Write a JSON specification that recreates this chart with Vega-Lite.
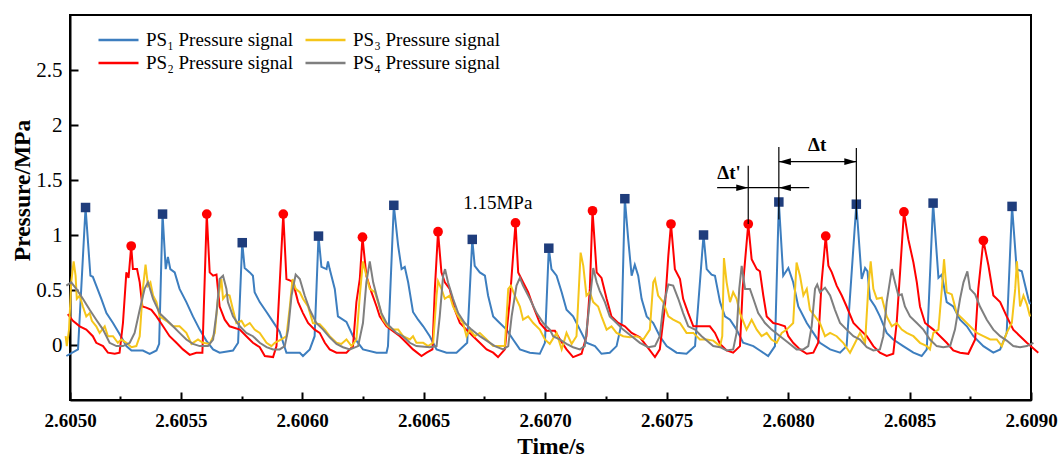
{
  "$schema": "https://vega.github.io/schema/vega-lite/v6.json",
  "width": 961,
  "height": 385,
  "autosize": {"type": "none"},
  "padding": {"left": 70, "top": 15, "right": 27, "bottom": 58},
  "background": "white",
  "config": {
    "view": {"stroke": "black", "strokeWidth": 2},
    "font": "Liberation Serif"
  },
  "datasets": {
    "ps": [
      {"s":"PS1","t":2.605029,"p":-0.10},{"s":"PS1","t":2.605077,"p":-0.04},{"s":"PS1","t":2.605108,"p":1.25},{"s":"PS1","t":2.605128,"p":0.63},{"s":"PS1","t":2.605138,"p":0.62},{"s":"PS1","t":2.605152,"p":0.54},{"s":"PS1","t":2.605173,"p":0.42},{"s":"PS1","t":2.605194,"p":0.29},{"s":"PS1","t":2.605221,"p":0.20},{"s":"PS1","t":2.605248,"p":0.10},{"s":"PS1","t":2.605276,"p":-0.01},{"s":"PS1","t":2.605297,"p":-0.05},{"s":"PS1","t":2.605344,"p":-0.05},{"s":"PS1","t":2.605372,"p":-0.08},{"s":"PS1","t":2.605400,"p":-0.05},{"s":"PS1","t":2.605411,"p":0.01},{"s":"PS1","t":2.605425,"p":1.19},{"s":"PS1","t":2.605438,"p":0.69},{"s":"PS1","t":2.605447,"p":0.80},{"s":"PS1","t":2.605457,"p":0.69},{"s":"PS1","t":2.605475,"p":0.66},{"s":"PS1","t":2.605495,"p":0.51},{"s":"PS1","t":2.605523,"p":0.39},{"s":"PS1","t":2.605550,"p":0.26},{"s":"PS1","t":2.605578,"p":0.14},{"s":"PS1","t":2.605605,"p":0.04},{"s":"PS1","t":2.605633,"p":-0.04},{"s":"PS1","t":2.605660,"p":-0.07},{"s":"PS1","t":2.605715,"p":-0.05},{"s":"PS1","t":2.605736,"p":0.02},{"s":"PS1","t":2.605753,"p":0.93},{"s":"PS1","t":2.605763,"p":0.70},{"s":"PS1","t":2.605784,"p":0.66},{"s":"PS1","t":2.605797,"p":0.63},{"s":"PS1","t":2.605804,"p":0.48},{"s":"PS1","t":2.605825,"p":0.39},{"s":"PS1","t":2.605853,"p":0.30},{"s":"PS1","t":2.605880,"p":0.21},{"s":"PS1","t":2.605907,"p":0.12},{"s":"PS1","t":2.605935,"p":-0.07},{"s":"PS1","t":2.605990,"p":-0.07},{"s":"PS1","t":2.606003,"p":-0.10},{"s":"PS1","t":2.606031,"p":-0.04},{"s":"PS1","t":2.606051,"p":0.08},{"s":"PS1","t":2.606067,"p":0.99},{"s":"PS1","t":2.606079,"p":0.71},{"s":"PS1","t":2.606100,"p":0.69},{"s":"PS1","t":2.606106,"p":0.76},{"s":"PS1","t":2.606113,"p":0.69},{"s":"PS1","t":2.606134,"p":0.51},{"s":"PS1","t":2.606147,"p":0.26},{"s":"PS1","t":2.606182,"p":0.21},{"s":"PS1","t":2.606209,"p":0.08},{"s":"PS1","t":2.606250,"p":-0.04},{"s":"PS1","t":2.606306,"p":-0.07},{"s":"PS1","t":2.606347,"p":-0.07},{"s":"PS1","t":2.606353,"p":-0.01},{"s":"PS1","t":2.606377,"p":1.27},{"s":"PS1","t":2.606395,"p":0.90},{"s":"PS1","t":2.606409,"p":0.69},{"s":"PS1","t":2.606422,"p":0.71},{"s":"PS1","t":2.606436,"p":0.57},{"s":"PS1","t":2.606456,"p":0.30},{"s":"PS1","t":2.606477,"p":0.23},{"s":"PS1","t":2.606498,"p":0.17},{"s":"PS1","t":2.606525,"p":0.08},{"s":"PS1","t":2.606553,"p":-0.04},{"s":"PS1","t":2.606594,"p":-0.07},{"s":"PS1","t":2.606635,"p":-0.07},{"s":"PS1","t":2.606679,"p":0.02},{"s":"PS1","t":2.606700,"p":0.96},{"s":"PS1","t":2.606710,"p":0.72},{"s":"PS1","t":2.606731,"p":0.66},{"s":"PS1","t":2.606752,"p":0.63},{"s":"PS1","t":2.606765,"p":0.45},{"s":"PS1","t":2.606786,"p":0.26},{"s":"PS1","t":2.606813,"p":0.20},{"s":"PS1","t":2.606841,"p":0.14},{"s":"PS1","t":2.606868,"p":0.05},{"s":"PS1","t":2.606896,"p":-0.04},{"s":"PS1","t":2.606937,"p":-0.07},{"s":"PS1","t":2.606978,"p":-0.08},{"s":"PS1","t":2.606999,"p":0.02},{"s":"PS1","t":2.607015,"p":0.88},{"s":"PS1","t":2.607026,"p":0.69},{"s":"PS1","t":2.607047,"p":0.63},{"s":"PS1","t":2.607068,"p":0.48},{"s":"PS1","t":2.607088,"p":0.32},{"s":"PS1","t":2.607115,"p":0.26},{"s":"PS1","t":2.607143,"p":0.14},{"s":"PS1","t":2.607170,"p":0.02},{"s":"PS1","t":2.607205,"p":-0.01},{"s":"PS1","t":2.607232,"p":-0.08},{"s":"PS1","t":2.607266,"p":-0.07},{"s":"PS1","t":2.607294,"p":-0.01},{"s":"PS1","t":2.607315,"p":0.20},{"s":"PS1","t":2.607328,"p":1.33},{"s":"PS1","t":2.607342,"p":0.96},{"s":"PS1","t":2.607356,"p":0.63},{"s":"PS1","t":2.607369,"p":0.73},{"s":"PS1","t":2.607383,"p":0.63},{"s":"PS1","t":2.607397,"p":0.42},{"s":"PS1","t":2.607418,"p":0.26},{"s":"PS1","t":2.607445,"p":0.20},{"s":"PS1","t":2.607472,"p":0.08},{"s":"PS1","t":2.607500,"p":-0.01},{"s":"PS1","t":2.607541,"p":-0.07},{"s":"PS1","t":2.607582,"p":-0.08},{"s":"PS1","t":2.607617,"p":-0.01},{"s":"PS1","t":2.607652,"p":1.00},{"s":"PS1","t":2.607665,"p":0.69},{"s":"PS1","t":2.607685,"p":0.64},{"s":"PS1","t":2.607699,"p":0.63},{"s":"PS1","t":2.607720,"p":0.39},{"s":"PS1","t":2.607740,"p":0.26},{"s":"PS1","t":2.607761,"p":0.23},{"s":"PS1","t":2.607788,"p":0.14},{"s":"PS1","t":2.607815,"p":0.02},{"s":"PS1","t":2.607857,"p":-0.01},{"s":"PS1","t":2.607884,"p":-0.05},{"s":"PS1","t":2.607918,"p":-0.10},{"s":"PS1","t":2.607946,"p":-0.01},{"s":"PS1","t":2.607962,"p":1.30},{"s":"PS1","t":2.607980,"p":0.63},{"s":"PS1","t":2.608001,"p":0.70},{"s":"PS1","t":2.608021,"p":0.57},{"s":"PS1","t":2.608042,"p":0.35},{"s":"PS1","t":2.608077,"p":0.20},{"s":"PS1","t":2.608104,"p":0.11},{"s":"PS1","t":2.608131,"p":0.02},{"s":"PS1","t":2.608173,"p":-0.04},{"s":"PS1","t":2.608214,"p":-0.07},{"s":"PS1","t":2.608241,"p":-0.01},{"s":"PS1","t":2.608281,"p":1.28},{"s":"PS1","t":2.608303,"p":0.60},{"s":"PS1","t":2.608317,"p":0.70},{"s":"PS1","t":2.608327,"p":0.67},{"s":"PS1","t":2.608337,"p":0.42},{"s":"PS1","t":2.608358,"p":0.35},{"s":"PS1","t":2.608378,"p":0.26},{"s":"PS1","t":2.608406,"p":0.11},{"s":"PS1","t":2.608433,"p":0.05},{"s":"PS1","t":2.608474,"p":-0.01},{"s":"PS1","t":2.608516,"p":-0.07},{"s":"PS1","t":2.608550,"p":-0.10},{"s":"PS1","t":2.608571,"p":-0.04},{"s":"PS1","t":2.608597,"p":1.29},{"s":"PS1","t":2.608619,"p":0.61},{"s":"PS1","t":2.608633,"p":0.64},{"s":"PS1","t":2.608653,"p":0.39},{"s":"PS1","t":2.608680,"p":0.35},{"s":"PS1","t":2.608708,"p":0.23},{"s":"PS1","t":2.608736,"p":0.17},{"s":"PS1","t":2.608763,"p":0.08},{"s":"PS1","t":2.608804,"p":-0.01},{"s":"PS1","t":2.608845,"p":-0.07},{"s":"PS1","t":2.608873,"p":-0.04},{"s":"PS1","t":2.608900,"p":0.11},{"s":"PS1","t":2.608922,"p":1.26},{"s":"PS1","t":2.608941,"p":0.69},{"s":"PS1","t":2.608962,"p":0.67},{"s":"PS1","t":2.608976,"p":0.54},{"s":"PS1","t":2.608989,"p":0.42},{"s":"PS1","t":2.608996,"p":0.37},

      {"s":"PS2","t":2.605035,"p":0.28},{"s":"PS2","t":2.605056,"p":0.22},{"s":"PS2","t":2.605084,"p":0.17},{"s":"PS2","t":2.605111,"p":0.14},{"s":"PS2","t":2.605138,"p":0.08},{"s":"PS2","t":2.605152,"p":0.02},{"s":"PS2","t":2.605180,"p":-0.01},{"s":"PS2","t":2.605200,"p":-0.07},{"s":"PS2","t":2.605228,"p":-0.08},{"s":"PS2","t":2.605248,"p":-0.07},{"s":"PS2","t":2.605262,"p":0.20},{"s":"PS2","t":2.605276,"p":0.66},{"s":"PS2","t":2.605285,"p":0.61},{"s":"PS2","t":2.605296,"p":0.90},{"s":"PS2","t":2.605303,"p":0.69},{"s":"PS2","t":2.605320,"p":0.69},{"s":"PS2","t":2.605331,"p":0.57},{"s":"PS2","t":2.605342,"p":0.35},{"s":"PS2","t":2.605358,"p":0.34},{"s":"PS2","t":2.605379,"p":0.32},{"s":"PS2","t":2.605400,"p":0.26},{"s":"PS2","t":2.605427,"p":0.17},{"s":"PS2","t":2.605454,"p":0.08},{"s":"PS2","t":2.605482,"p":0.02},{"s":"PS2","t":2.605509,"p":-0.04},{"s":"PS2","t":2.605537,"p":-0.09},{"s":"PS2","t":2.605564,"p":-0.07},{"s":"PS2","t":2.605589,"p":-0.07},{"s":"PS2","t":2.605607,"p":1.19},{"s":"PS2","t":2.605619,"p":0.66},{"s":"PS2","t":2.605633,"p":0.63},{"s":"PS2","t":2.605647,"p":0.64},{"s":"PS2","t":2.605660,"p":0.35},{"s":"PS2","t":2.605681,"p":0.23},{"s":"PS2","t":2.605701,"p":0.17},{"s":"PS2","t":2.605743,"p":0.14},{"s":"PS2","t":2.605770,"p":0.08},{"s":"PS2","t":2.605797,"p":0.02},{"s":"PS2","t":2.605825,"p":-0.02},{"s":"PS2","t":2.605846,"p":-0.10},{"s":"PS2","t":2.605880,"p":-0.11},{"s":"PS2","t":2.605894,"p":-0.01},{"s":"PS2","t":2.605922,"p":1.19},{"s":"PS2","t":2.605935,"p":0.60},{"s":"PS2","t":2.605956,"p":0.58},{"s":"PS2","t":2.605969,"p":0.51},{"s":"PS2","t":2.605983,"p":0.39},{"s":"PS2","t":2.606003,"p":0.29},{"s":"PS2","t":2.606024,"p":0.20},{"s":"PS2","t":2.606051,"p":0.14},{"s":"PS2","t":2.606072,"p":0.11},{"s":"PS2","t":2.606093,"p":0.02},{"s":"PS2","t":2.606113,"p":-0.04},{"s":"PS2","t":2.606141,"p":-0.07},{"s":"PS2","t":2.606182,"p":-0.07},{"s":"PS2","t":2.606209,"p":-0.01},{"s":"PS2","t":2.606223,"p":0.39},{"s":"PS2","t":2.606237,"p":0.60},{"s":"PS2","t":2.606248,"p":0.98},{"s":"PS2","t":2.606264,"p":0.63},{"s":"PS2","t":2.606285,"p":0.48},{"s":"PS2","t":2.606306,"p":0.35},{"s":"PS2","t":2.606319,"p":0.26},{"s":"PS2","t":2.606347,"p":0.17},{"s":"PS2","t":2.606402,"p":0.08},{"s":"PS2","t":2.606429,"p":0.02},{"s":"PS2","t":2.606456,"p":-0.04},{"s":"PS2","t":2.606491,"p":-0.10},{"s":"PS2","t":2.606512,"p":-0.07},{"s":"PS2","t":2.606536,"p":-0.04},{"s":"PS2","t":2.606546,"p":0.51},{"s":"PS2","t":2.606559,"p":1.03},{"s":"PS2","t":2.606573,"p":0.66},{"s":"PS2","t":2.606587,"p":0.57},{"s":"PS2","t":2.606607,"p":0.51},{"s":"PS2","t":2.606628,"p":0.32},{"s":"PS2","t":2.606649,"p":0.20},{"s":"PS2","t":2.606676,"p":0.14},{"s":"PS2","t":2.606703,"p":0.08},{"s":"PS2","t":2.606731,"p":0.02},{"s":"PS2","t":2.606759,"p":-0.04},{"s":"PS2","t":2.606786,"p":-0.07},{"s":"PS2","t":2.606806,"p":-0.11},{"s":"PS2","t":2.606834,"p":-0.04},{"s":"PS2","t":2.606855,"p":0.42},{"s":"PS2","t":2.606878,"p":1.11},{"s":"PS2","t":2.606889,"p":0.66},{"s":"PS2","t":2.606909,"p":0.57},{"s":"PS2","t":2.606930,"p":0.48},{"s":"PS2","t":2.606951,"p":0.35},{"s":"PS2","t":2.606978,"p":0.20},{"s":"PS2","t":2.607006,"p":0.13},{"s":"PS2","t":2.607040,"p":0.13},{"s":"PS2","t":2.607061,"p":0.05},{"s":"PS2","t":2.607088,"p":-0.04},{"s":"PS2","t":2.607115,"p":-0.11},{"s":"PS2","t":2.607150,"p":-0.08},{"s":"PS2","t":2.607170,"p":0.08},{"s":"PS2","t":2.607184,"p":0.51},{"s":"PS2","t":2.607195,"p":1.22},{"s":"PS2","t":2.607212,"p":0.66},{"s":"PS2","t":2.607232,"p":0.61},{"s":"PS2","t":2.607253,"p":0.42},{"s":"PS2","t":2.607273,"p":0.26},{"s":"PS2","t":2.607301,"p":0.20},{"s":"PS2","t":2.607328,"p":0.17},{"s":"PS2","t":2.607356,"p":0.11},{"s":"PS2","t":2.607390,"p":0.07},{"s":"PS2","t":2.607418,"p":-0.01},{"s":"PS2","t":2.607452,"p":-0.11},{"s":"PS2","t":2.607472,"p":-0.04},{"s":"PS2","t":2.607493,"p":0.35},{"s":"PS2","t":2.607507,"p":0.81},{"s":"PS2","t":2.607518,"p":1.10},{"s":"PS2","t":2.607534,"p":0.69},{"s":"PS2","t":2.607555,"p":0.60},{"s":"PS2","t":2.607568,"p":0.42},{"s":"PS2","t":2.607589,"p":0.29},{"s":"PS2","t":2.607610,"p":0.17},{"s":"PS2","t":2.607678,"p":0.17},{"s":"PS2","t":2.607699,"p":0.11},{"s":"PS2","t":2.607720,"p":0.01},{"s":"PS2","t":2.607747,"p":-0.05},{"s":"PS2","t":2.607774,"p":-0.07},{"s":"PS2","t":2.607802,"p":-0.01},{"s":"PS2","t":2.607813,"p":0.51},{"s":"PS2","t":2.607836,"p":1.10},{"s":"PS2","t":2.607850,"p":0.78},{"s":"PS2","t":2.607871,"p":0.69},{"s":"PS2","t":2.607884,"p":0.67},{"s":"PS2","t":2.607898,"p":0.45},{"s":"PS2","t":2.607912,"p":0.26},{"s":"PS2","t":2.607939,"p":0.20},{"s":"PS2","t":2.607960,"p":0.19},{"s":"PS2","t":2.607987,"p":0.17},{"s":"PS2","t":2.608001,"p":0.08},{"s":"PS2","t":2.608021,"p":0.02},{"s":"PS2","t":2.608049,"p":-0.04},{"s":"PS2","t":2.608077,"p":-0.08},{"s":"PS2","t":2.608104,"p":-0.07},{"s":"PS2","t":2.608124,"p":0.02},{"s":"PS2","t":2.608138,"p":0.57},{"s":"PS2","t":2.608155,"p":0.99},{"s":"PS2","t":2.608166,"p":0.72},{"s":"PS2","t":2.608180,"p":0.66},{"s":"PS2","t":2.608200,"p":0.54},{"s":"PS2","t":2.608221,"p":0.45},{"s":"PS2","t":2.608241,"p":0.35},{"s":"PS2","t":2.608269,"p":0.20},{"s":"PS2","t":2.608296,"p":0.14},{"s":"PS2","t":2.608324,"p":0.08},{"s":"PS2","t":2.608351,"p":-0.01},{"s":"PS2","t":2.608378,"p":-0.07},{"s":"PS2","t":2.608406,"p":-0.10},{"s":"PS2","t":2.608433,"p":-0.08},{"s":"PS2","t":2.608447,"p":0.20},{"s":"PS2","t":2.608461,"p":0.66},{"s":"PS2","t":2.608477,"p":1.21},{"s":"PS2","t":2.608495,"p":0.96},{"s":"PS2","t":2.608516,"p":0.75},{"s":"PS2","t":2.608530,"p":0.57},{"s":"PS2","t":2.608543,"p":0.35},{"s":"PS2","t":2.608564,"p":0.20},{"s":"PS2","t":2.608598,"p":0.14},{"s":"PS2","t":2.608626,"p":0.08},{"s":"PS2","t":2.608653,"p":0.02},{"s":"PS2","t":2.608680,"p":-0.05},{"s":"PS2","t":2.608708,"p":-0.07},{"s":"PS2","t":2.608742,"p":-0.08},{"s":"PS2","t":2.608770,"p":0.05},{"s":"PS2","t":2.608783,"p":0.51},{"s":"PS2","t":2.608804,"p":0.95},{"s":"PS2","t":2.608825,"p":0.72},{"s":"PS2","t":2.608845,"p":0.45},{"s":"PS2","t":2.608873,"p":0.39},{"s":"PS2","t":2.608900,"p":0.26},{"s":"PS2","t":2.608927,"p":0.14},{"s":"PS2","t":2.608955,"p":0.08},{"s":"PS2","t":2.608983,"p":0.02},{"s":"PS2","t":2.609030,"p":-0.07},

      {"s":"PS3","t":2.605026,"p":0.08},{"s":"PS3","t":2.605031,"p":-0.01},{"s":"PS3","t":2.605040,"p":0.14},{"s":"PS3","t":2.605049,"p":0.57},{"s":"PS3","t":2.605059,"p":0.76},{"s":"PS3","t":2.605067,"p":0.63},{"s":"PS3","t":2.605072,"p":0.42},{"s":"PS3","t":2.605084,"p":0.45},{"s":"PS3","t":2.605097,"p":0.35},{"s":"PS3","t":2.605111,"p":0.26},{"s":"PS3","t":2.605125,"p":0.29},{"s":"PS3","t":2.605134,"p":0.22},{"s":"PS3","t":2.605152,"p":0.17},{"s":"PS3","t":2.605166,"p":0.11},{"s":"PS3","t":2.605187,"p":0.17},{"s":"PS3","t":2.605200,"p":0.08},{"s":"PS3","t":2.605221,"p":0.08},{"s":"PS3","t":2.605241,"p":0.02},{"s":"PS3","t":2.605255,"p":0.05},{"s":"PS3","t":2.605276,"p":0.02},{"s":"PS3","t":2.605297,"p":-0.02},{"s":"PS3","t":2.605317,"p":-0.01},{"s":"PS3","t":2.605331,"p":0.08},{"s":"PS3","t":2.605344,"p":0.51},{"s":"PS3","t":2.605355,"p":0.73},{"s":"PS3","t":2.605365,"p":0.54},{"s":"PS3","t":2.605375,"p":0.57},{"s":"PS3","t":2.605386,"p":0.45},{"s":"PS3","t":2.605400,"p":0.39},{"s":"PS3","t":2.605413,"p":0.26},{"s":"PS3","t":2.605441,"p":0.22},{"s":"PS3","t":2.605468,"p":0.17},{"s":"PS3","t":2.605495,"p":0.17},{"s":"PS3","t":2.605523,"p":0.11},{"s":"PS3","t":2.605544,"p":0.01},{"s":"PS3","t":2.605571,"p":0.05},{"s":"PS3","t":2.605591,"p":0.02},{"s":"PS3","t":2.605619,"p":0.01},{"s":"PS3","t":2.605640,"p":0.11},{"s":"PS3","t":2.605653,"p":0.42},{"s":"PS3","t":2.605667,"p":0.60},{"s":"PS3","t":2.605674,"p":0.42},{"s":"PS3","t":2.605688,"p":0.46},{"s":"PS3","t":2.605701,"p":0.45},{"s":"PS3","t":2.605715,"p":0.32},{"s":"PS3","t":2.605729,"p":0.20},{"s":"PS3","t":2.605750,"p":0.22},{"s":"PS3","t":2.605763,"p":0.17},{"s":"PS3","t":2.605784,"p":0.20},{"s":"PS3","t":2.605804,"p":0.14},{"s":"PS3","t":2.605825,"p":0.11},{"s":"PS3","t":2.605853,"p":0.02},{"s":"PS3","t":2.605873,"p":-0.01},{"s":"PS3","t":2.605887,"p":0.02},{"s":"PS3","t":2.605914,"p":0.05},{"s":"PS3","t":2.605935,"p":0.08},{"s":"PS3","t":2.605949,"p":0.35},{"s":"PS3","t":2.605960,"p":0.60},{"s":"PS3","t":2.605973,"p":0.51},{"s":"PS3","t":2.605990,"p":0.48},{"s":"PS3","t":2.606003,"p":0.42},{"s":"PS3","t":2.606024,"p":0.35},{"s":"PS3","t":2.606044,"p":0.20},{"s":"PS3","t":2.606072,"p":0.19},{"s":"PS3","t":2.606093,"p":0.14},{"s":"PS3","t":2.606113,"p":0.08},{"s":"PS3","t":2.606141,"p":0.02},{"s":"PS3","t":2.606161,"p":0.01},{"s":"PS3","t":2.606182,"p":0.05},{"s":"PS3","t":2.606203,"p":-0.01},{"s":"PS3","t":2.606223,"p":0.05},{"s":"PS3","t":2.606237,"p":0.45},{"s":"PS3","t":2.606250,"p":0.76},{"s":"PS3","t":2.606264,"p":0.63},{"s":"PS3","t":2.606278,"p":0.51},{"s":"PS3","t":2.606299,"p":0.48},{"s":"PS3","t":2.606312,"p":0.39},{"s":"PS3","t":2.606333,"p":0.23},{"s":"PS3","t":2.606353,"p":0.17},{"s":"PS3","t":2.606374,"p":0.14},{"s":"PS3","t":2.606395,"p":0.14},{"s":"PS3","t":2.606415,"p":0.08},{"s":"PS3","t":2.606443,"p":0.05},{"s":"PS3","t":2.606456,"p":0.08},{"s":"PS3","t":2.606470,"p":0.02},{"s":"PS3","t":2.606498,"p":0.02},{"s":"PS3","t":2.606518,"p":-0.01},{"s":"PS3","t":2.606539,"p":0.02},{"s":"PS3","t":2.606553,"p":0.45},{"s":"PS3","t":2.606559,"p":0.58},{"s":"PS3","t":2.606573,"p":0.51},{"s":"PS3","t":2.606587,"p":0.42},{"s":"PS3","t":2.606607,"p":0.45},{"s":"PS3","t":2.606621,"p":0.35},{"s":"PS3","t":2.606642,"p":0.26},{"s":"PS3","t":2.606662,"p":0.20},{"s":"PS3","t":2.606676,"p":0.08},{"s":"PS3","t":2.606690,"p":0.14},{"s":"PS3","t":2.606710,"p":0.08},{"s":"PS3","t":2.606731,"p":0.11},{"s":"PS3","t":2.606759,"p":0.05},{"s":"PS3","t":2.606786,"p":-0.01},{"s":"PS3","t":2.606834,"p":-0.01},{"s":"PS3","t":2.606848,"p":0.51},{"s":"PS3","t":2.606859,"p":0.54},{"s":"PS3","t":2.606875,"p":0.45},{"s":"PS3","t":2.606896,"p":0.35},{"s":"PS3","t":2.606909,"p":0.23},{"s":"PS3","t":2.606930,"p":0.26},{"s":"PS3","t":2.606951,"p":0.20},{"s":"PS3","t":2.606978,"p":0.14},{"s":"PS3","t":2.606999,"p":0.05},{"s":"PS3","t":2.607019,"p":0.01},{"s":"PS3","t":2.607047,"p":0.11},{"s":"PS3","t":2.607068,"p":-0.04},{"s":"PS3","t":2.607088,"p":0.11},{"s":"PS3","t":2.607109,"p":0.01},{"s":"PS3","t":2.607129,"p":0.08},{"s":"PS3","t":2.607146,"p":0.84},{"s":"PS3","t":2.607157,"p":0.72},{"s":"PS3","t":2.607170,"p":0.45},{"s":"PS3","t":2.607184,"p":0.48},{"s":"PS3","t":2.607198,"p":0.39},{"s":"PS3","t":2.607218,"p":0.35},{"s":"PS3","t":2.607232,"p":0.26},{"s":"PS3","t":2.607253,"p":0.14},{"s":"PS3","t":2.607273,"p":0.17},{"s":"PS3","t":2.607294,"p":0.11},{"s":"PS3","t":2.607321,"p":0.08},{"s":"PS3","t":2.607349,"p":0.07},{"s":"PS3","t":2.607376,"p":0.08},{"s":"PS3","t":2.607404,"p":0.05},{"s":"PS3","t":2.607431,"p":0.14},{"s":"PS3","t":2.607445,"p":0.57},{"s":"PS3","t":2.607452,"p":0.60},{"s":"PS3","t":2.607465,"p":0.45},{"s":"PS3","t":2.607486,"p":0.39},{"s":"PS3","t":2.607507,"p":0.26},{"s":"PS3","t":2.607527,"p":0.23},{"s":"PS3","t":2.607555,"p":0.20},{"s":"PS3","t":2.607582,"p":0.11},{"s":"PS3","t":2.607610,"p":0.11},{"s":"PS3","t":2.607637,"p":0.05},{"s":"PS3","t":2.607665,"p":0.05},{"s":"PS3","t":2.607692,"p":0.04},{"s":"PS3","t":2.607720,"p":-0.01},{"s":"PS3","t":2.607729,"p":0.08},{"s":"PS3","t":2.607736,"p":0.79},{"s":"PS3","t":2.607747,"p":0.57},{"s":"PS3","t":2.607761,"p":0.39},{"s":"PS3","t":2.607774,"p":0.48},{"s":"PS3","t":2.607788,"p":0.42},{"s":"PS3","t":2.607802,"p":0.29},{"s":"PS3","t":2.607829,"p":0.14},{"s":"PS3","t":2.607850,"p":0.23},{"s":"PS3","t":2.607871,"p":0.14},{"s":"PS3","t":2.607891,"p":0.08},{"s":"PS3","t":2.607912,"p":0.11},{"s":"PS3","t":2.607932,"p":0.05},{"s":"PS3","t":2.607953,"p":0.02},{"s":"PS3","t":2.607974,"p":0.11},{"s":"PS3","t":2.607994,"p":0.14},{"s":"PS3","t":2.608021,"p":0.20},{"s":"PS3","t":2.608035,"p":0.75},{"s":"PS3","t":2.608049,"p":0.63},{"s":"PS3","t":2.608063,"p":0.45},{"s":"PS3","t":2.608077,"p":0.51},{"s":"PS3","t":2.608090,"p":0.32},{"s":"PS3","t":2.608111,"p":0.26},{"s":"PS3","t":2.608131,"p":0.20},{"s":"PS3","t":2.608152,"p":0.08},{"s":"PS3","t":2.608173,"p":0.11},{"s":"PS3","t":2.608200,"p":0.08},{"s":"PS3","t":2.608227,"p":0.02},{"s":"PS3","t":2.608255,"p":-0.07},{"s":"PS3","t":2.608276,"p":0.02},{"s":"PS3","t":2.608296,"p":0.11},{"s":"PS3","t":2.608317,"p":0.02},{"s":"PS3","t":2.608330,"p":0.51},{"s":"PS3","t":2.608340,"p":0.76},{"s":"PS3","t":2.608351,"p":0.51},{"s":"PS3","t":2.608365,"p":0.42},{"s":"PS3","t":2.608386,"p":0.43},{"s":"PS3","t":2.608406,"p":0.26},{"s":"PS3","t":2.608427,"p":0.17},{"s":"PS3","t":2.608447,"p":0.20},{"s":"PS3","t":2.608468,"p":0.14},{"s":"PS3","t":2.608488,"p":0.11},{"s":"PS3","t":2.608516,"p":0.08},{"s":"PS3","t":2.608543,"p":0.02},{"s":"PS3","t":2.608571,"p":-0.01},{"s":"PS3","t":2.608584,"p":-0.04},{"s":"PS3","t":2.608598,"p":0.11},{"s":"PS3","t":2.608619,"p":0.14},{"s":"PS3","t":2.608633,"p":0.51},{"s":"PS3","t":2.608642,"p":0.78},{"s":"PS3","t":2.608653,"p":0.48},{"s":"PS3","t":2.608674,"p":0.46},{"s":"PS3","t":2.608694,"p":0.29},{"s":"PS3","t":2.608722,"p":0.23},{"s":"PS3","t":2.608749,"p":0.17},{"s":"PS3","t":2.608777,"p":0.11},{"s":"PS3","t":2.608804,"p":0.08},{"s":"PS3","t":2.608832,"p":0.05},{"s":"PS3","t":2.608859,"p":0.05},{"s":"PS3","t":2.608880,"p":-0.01},{"s":"PS3","t":2.608900,"p":0.11},{"s":"PS3","t":2.608921,"p":0.20},{"s":"PS3","t":2.608935,"p":0.51},{"s":"PS3","t":2.608942,"p":0.76},{"s":"PS3","t":2.608955,"p":0.35},{"s":"PS3","t":2.608969,"p":0.45},{"s":"PS3","t":2.608983,"p":0.37},{"s":"PS3","t":2.608996,"p":0.26},

      {"s":"PS4","t":2.605029,"p":0.54},{"s":"PS4","t":2.605049,"p":0.57},{"s":"PS4","t":2.605070,"p":0.51},{"s":"PS4","t":2.605097,"p":0.42},{"s":"PS4","t":2.605125,"p":0.32},{"s":"PS4","t":2.605152,"p":0.23},{"s":"PS4","t":2.605180,"p":0.14},{"s":"PS4","t":2.605207,"p":0.02},{"s":"PS4","t":2.605235,"p":-0.01},{"s":"PS4","t":2.605262,"p":-0.01},{"s":"PS4","t":2.605290,"p":0.02},{"s":"PS4","t":2.605310,"p":0.11},{"s":"PS4","t":2.605331,"p":0.32},{"s":"PS4","t":2.605351,"p":0.51},{"s":"PS4","t":2.605365,"p":0.57},{"s":"PS4","t":2.605386,"p":0.42},{"s":"PS4","t":2.605413,"p":0.29},{"s":"PS4","t":2.605441,"p":0.23},{"s":"PS4","t":2.605468,"p":0.17},{"s":"PS4","t":2.605495,"p":0.11},{"s":"PS4","t":2.605523,"p":0.05},{"s":"PS4","t":2.605550,"p":0.01},{"s":"PS4","t":2.605578,"p":-0.01},{"s":"PS4","t":2.605612,"p":-0.01},{"s":"PS4","t":2.605633,"p":0.05},{"s":"PS4","t":2.605647,"p":0.29},{"s":"PS4","t":2.605660,"p":0.60},{"s":"PS4","t":2.605674,"p":0.63},{"s":"PS4","t":2.605688,"p":0.51},{"s":"PS4","t":2.605694,"p":0.39},{"s":"PS4","t":2.605715,"p":0.26},{"s":"PS4","t":2.605743,"p":0.17},{"s":"PS4","t":2.605770,"p":0.11},{"s":"PS4","t":2.605797,"p":0.08},{"s":"PS4","t":2.605825,"p":0.02},{"s":"PS4","t":2.605853,"p":-0.02},{"s":"PS4","t":2.605880,"p":-0.04},{"s":"PS4","t":2.605907,"p":-0.04},{"s":"PS4","t":2.605928,"p":-0.01},{"s":"PS4","t":2.605942,"p":0.14},{"s":"PS4","t":2.605956,"p":0.45},{"s":"PS4","t":2.605973,"p":0.64},{"s":"PS4","t":2.605990,"p":0.60},{"s":"PS4","t":2.606010,"p":0.45},{"s":"PS4","t":2.606031,"p":0.32},{"s":"PS4","t":2.606058,"p":0.20},{"s":"PS4","t":2.606086,"p":0.14},{"s":"PS4","t":2.606113,"p":0.07},{"s":"PS4","t":2.606141,"p":0.01},{"s":"PS4","t":2.606168,"p":-0.02},{"s":"PS4","t":2.606196,"p":-0.04},{"s":"PS4","t":2.606230,"p":-0.01},{"s":"PS4","t":2.606250,"p":0.20},{"s":"PS4","t":2.606264,"p":0.57},{"s":"PS4","t":2.606278,"p":0.76},{"s":"PS4","t":2.606292,"p":0.57},{"s":"PS4","t":2.606306,"p":0.45},{"s":"PS4","t":2.606326,"p":0.29},{"s":"PS4","t":2.606347,"p":0.20},{"s":"PS4","t":2.606360,"p":0.17},{"s":"PS4","t":2.606388,"p":0.11},{"s":"PS4","t":2.606415,"p":0.08},{"s":"PS4","t":2.606443,"p":0.02},{"s":"PS4","t":2.606470,"p":-0.01},{"s":"PS4","t":2.606525,"p":-0.02},{"s":"PS4","t":2.606553,"p":-0.01},{"s":"PS4","t":2.606566,"p":0.26},{"s":"PS4","t":2.606580,"p":0.63},{"s":"PS4","t":2.606588,"p":0.69},{"s":"PS4","t":2.606600,"p":0.57},{"s":"PS4","t":2.606621,"p":0.42},{"s":"PS4","t":2.606642,"p":0.29},{"s":"PS4","t":2.606669,"p":0.20},{"s":"PS4","t":2.606697,"p":0.14},{"s":"PS4","t":2.606731,"p":0.08},{"s":"PS4","t":2.606759,"p":0.04},{"s":"PS4","t":2.606793,"p":-0.01},{"s":"PS4","t":2.606827,"p":-0.04},{"s":"PS4","t":2.606848,"p":-0.01},{"s":"PS4","t":2.606862,"p":0.26},{"s":"PS4","t":2.606882,"p":0.54},{"s":"PS4","t":2.606896,"p":0.61},{"s":"PS4","t":2.606909,"p":0.54},{"s":"PS4","t":2.606937,"p":0.42},{"s":"PS4","t":2.606965,"p":0.29},{"s":"PS4","t":2.606992,"p":0.20},{"s":"PS4","t":2.607019,"p":0.14},{"s":"PS4","t":2.607033,"p":0.08},{"s":"PS4","t":2.607061,"p":0.05},{"s":"PS4","t":2.607088,"p":0.01},{"s":"PS4","t":2.607115,"p":-0.02},{"s":"PS4","t":2.607143,"p":-0.04},{"s":"PS4","t":2.607163,"p":-0.01},{"s":"PS4","t":2.607177,"p":0.26},{"s":"PS4","t":2.607198,"p":0.70},{"s":"PS4","t":2.607212,"p":0.57},{"s":"PS4","t":2.607225,"p":0.49},{"s":"PS4","t":2.607246,"p":0.39},{"s":"PS4","t":2.607266,"p":0.26},{"s":"PS4","t":2.607294,"p":0.20},{"s":"PS4","t":2.607321,"p":0.14},{"s":"PS4","t":2.607356,"p":0.08},{"s":"PS4","t":2.607390,"p":0.02},{"s":"PS4","t":2.607424,"p":-0.02},{"s":"PS4","t":2.607452,"p":-0.01},{"s":"PS4","t":2.607472,"p":0.08},{"s":"PS4","t":2.607486,"p":0.35},{"s":"PS4","t":2.607507,"p":0.55},{"s":"PS4","t":2.607527,"p":0.54},{"s":"PS4","t":2.607548,"p":0.42},{"s":"PS4","t":2.607568,"p":0.29},{"s":"PS4","t":2.607589,"p":0.17},{"s":"PS4","t":2.607617,"p":0.14},{"s":"PS4","t":2.607644,"p":0.08},{"s":"PS4","t":2.607665,"p":0.04},{"s":"PS4","t":2.607692,"p":-0.01},{"s":"PS4","t":2.607720,"p":-0.02},{"s":"PS4","t":2.607747,"p":-0.05},{"s":"PS4","t":2.607774,"p":-0.04},{"s":"PS4","t":2.607788,"p":0.11},{"s":"PS4","t":2.607799,"p":0.51},{"s":"PS4","t":2.607809,"p":0.72},{"s":"PS4","t":2.607823,"p":0.51},{"s":"PS4","t":2.607843,"p":0.51},{"s":"PS4","t":2.607857,"p":0.42},{"s":"PS4","t":2.607877,"p":0.29},{"s":"PS4","t":2.607905,"p":0.20},{"s":"PS4","t":2.607932,"p":0.14},{"s":"PS4","t":2.607967,"p":0.08},{"s":"PS4","t":2.608001,"p":0.02},{"s":"PS4","t":2.608035,"p":-0.04},{"s":"PS4","t":2.608063,"p":-0.04},{"s":"PS4","t":2.608083,"p":-0.01},{"s":"PS4","t":2.608097,"p":0.17},{"s":"PS4","t":2.608111,"p":0.51},{"s":"PS4","t":2.608120,"p":0.55},{"s":"PS4","t":2.608131,"p":0.48},{"s":"PS4","t":2.608152,"p":0.52},{"s":"PS4","t":2.608173,"p":0.45},{"s":"PS4","t":2.608193,"p":0.32},{"s":"PS4","t":2.608214,"p":0.20},{"s":"PS4","t":2.608241,"p":0.14},{"s":"PS4","t":2.608269,"p":0.08},{"s":"PS4","t":2.608296,"p":0.05},{"s":"PS4","t":2.608324,"p":-0.02},{"s":"PS4","t":2.608351,"p":-0.05},{"s":"PS4","t":2.608378,"p":-0.04},{"s":"PS4","t":2.608392,"p":0.08},{"s":"PS4","t":2.608406,"p":0.39},{"s":"PS4","t":2.608427,"p":0.69},{"s":"PS4","t":2.608440,"p":0.57},{"s":"PS4","t":2.608454,"p":0.45},{"s":"PS4","t":2.608468,"p":0.46},{"s":"PS4","t":2.608481,"p":0.35},{"s":"PS4","t":2.608502,"p":0.26},{"s":"PS4","t":2.608530,"p":0.20},{"s":"PS4","t":2.608557,"p":0.14},{"s":"PS4","t":2.608584,"p":0.05},{"s":"PS4","t":2.608612,"p":-0.01},{"s":"PS4","t":2.608639,"p":-0.02},{"s":"PS4","t":2.608667,"p":-0.01},{"s":"PS4","t":2.608687,"p":0.14},{"s":"PS4","t":2.608708,"p":0.42},{"s":"PS4","t":2.608722,"p":0.57},{"s":"PS4","t":2.608738,"p":0.67},{"s":"PS4","t":2.608749,"p":0.51},{"s":"PS4","t":2.608770,"p":0.46},{"s":"PS4","t":2.608790,"p":0.35},{"s":"PS4","t":2.608818,"p":0.23},{"s":"PS4","t":2.608845,"p":0.14},{"s":"PS4","t":2.608873,"p":0.08},{"s":"PS4","t":2.608900,"p":0.04},{"s":"PS4","t":2.608927,"p":-0.01},{"s":"PS4","t":2.608955,"p":-0.02},{"s":"PS4","t":2.608983,"p":-0.01},{"s":"PS4","t":2.609010,"p":0.02}
    ],
    "m1": [
      {"t":2.605108,"p":1.25},{"t":2.605425,"p":1.19},{"t":2.605753,"p":0.93},{"t":2.606067,"p":0.99},{"t":2.606377,"p":1.27},{"t":2.606700,"p":0.96},{"t":2.607015,"p":0.88},{"t":2.607328,"p":1.33},{"t":2.607652,"p":1.00},{"t":2.607962,"p":1.30},{"t":2.608281,"p":1.28},{"t":2.608597,"p":1.29},{"t":2.608922,"p":1.26}
    ],
    "m2": [
      {"t":2.605296,"p":0.90},{"t":2.605607,"p":1.19},{"t":2.605922,"p":1.19},{"t":2.606248,"p":0.98},{"t":2.606559,"p":1.03},{"t":2.606878,"p":1.11},{"t":2.607195,"p":1.22},{"t":2.607518,"p":1.10},{"t":2.607836,"p":1.10},{"t":2.608155,"p":0.99},{"t":2.608477,"p":1.21},{"t":2.608804,"p":0.95}
    ],
    "vr": [
      {"t":2.607836,"p":1.10,"p2":1.63},{"t":2.607962,"p":1.14,"p2":1.80},{"t":2.608281,"p":1.14,"p2":1.79}
    ],
    "hr": [
      {"t":2.607962,"t2":2.608281,"p":1.667},{"t":2.607708,"t2":2.608087,"p":1.43}
    ],
    "ah": [
      {"t":2.607962,"p":1.667,"dir":"L"},{"t":2.608281,"p":1.667,"dir":"R"},{"t":2.607836,"p":1.43,"dir":"R"},{"t":2.607962,"p":1.43,"dir":"L"}
    ],
    "txr": [{"t":2.606805,"p":1.234,"label":"1.15MPa"}],
    "txb": [{"t":2.608120,"p":1.76,"label":"Δt"},{"t":2.607757,"p":1.506,"label":"Δt'"}]
  },
  "layer": [
    {
      "data": {"name": "ps"},
      "mark": {"type": "line", "strokeWidth": 2, "clip": false},
      "encoding": {
        "x": {
          "field": "t", "type": "quantitative",
          "scale": {"domain": [2.605044, 2.609], "nice": false, "zero": false},
          "axis": {
            "orient": "bottom",
            "values": [2.605044, 2.6055, 2.606, 2.6065, 2.607, 2.6075, 2.608, 2.6085, 2.609],
            "format": ".4f",
            "grid": false,
            "tickSize": -8, "tickWidth": 2, "tickColor": "black",
            "domainColor": "black", "domainWidth": 2,
            "labelFont": "Liberation Serif", "labelFontSize": 19, "labelFontWeight": "bold", "labelColor": "black",
            "labelPadding": 19, "labelFlush": false, "labelOverlap": false,
            "title": "Time/s", "titleFont": "Liberation Serif", "titleFontSize": 23.5, "titleFontWeight": "bold", "titleColor": "black",
            "titleBaseline": "alphabetic", "titleY": 53
          }
        },
        "y": {
          "field": "p", "type": "quantitative",
          "scale": {"domain": [-0.5, 3], "nice": false, "zero": false},
          "axis": {
            "orient": "left",
            "values": [0, 0.5, 1, 1.5, 2, 2.5],
            "format": "~g",
            "grid": false,
            "tickSize": -8, "tickWidth": 2, "tickColor": "black",
            "domainColor": "black", "domainWidth": 2,
            "labelFont": "Liberation Serif", "labelFontSize": 21, "labelColor": "black",
            "labelPadding": 16,
            "title": "Pressure/MPa", "titleFont": "Liberation Serif", "titleFontSize": 23.5, "titleFontWeight": "bold", "titleColor": "black",
            "titleAngle": -90, "titleX": -47.5, "titleY": 175, "titleAlign": "center", "titleBaseline": "middle"
          }
        },
        "color": {
          "field": "s", "type": "nominal",
          "scale": {"domain": ["PS1", "PS2", "PS3", "PS4"], "range": ["#3D7EBF", "#FF0000", "#F5C51A", "#7F7F7F"]},
          "legend": {
            "orient": "none", "legendX": 27, "legendY": 13.5,
            "columns": 2, "title": null, "padding": 0,
            "symbolType": "stroke", "symbolSize": 1600, "symbolStrokeWidth": 2.5,
            "labelFont": "Liberation Serif", "labelFontSize": 19, "labelColor": "black", "labelOffset": 6,
            "clipHeight": 23, "rowPadding": 0, "columnPadding": 10,
            "labelExpr": "datum.value == 'PS1' ? 'PS₁ Pressure signal' : datum.value == 'PS2' ? 'PS₂ Pressure signal' : datum.value == 'PS3' ? 'PS₃ Pressure signal' : 'PS₄ Pressure signal'"
          }
        }
      }
    },
    {
      "mark": {"type": "rule", "strokeDash": [4, 3], "strokeWidth": 1.5, "color": "black"},
      "encoding": {"y": {"datum": 1.15}}
    },
    {
      "data": {"name": "m1"},
      "mark": {"type": "point", "shape": "square", "filled": true, "size": 90, "color": "#1F3D7C", "opacity": 1},
      "encoding": {
        "x": {"field": "t", "type": "quantitative", "axis": null},
        "y": {"field": "p", "type": "quantitative"}
      }
    },
    {
      "data": {"name": "m2"},
      "mark": {"type": "point", "shape": "circle", "filled": true, "size": 95, "color": "#FF0000", "opacity": 1},
      "encoding": {
        "x": {"field": "t", "type": "quantitative", "axis": null},
        "y": {"field": "p", "type": "quantitative"}
      }
    },
    {
      "data": {"name": "vr"},
      "mark": {"type": "rule", "color": "black", "strokeWidth": 1.2},
      "encoding": {
        "x": {"field": "t", "type": "quantitative", "axis": null},
        "y": {"field": "p", "type": "quantitative"},
        "y2": {"field": "p2"}
      }
    },
    {
      "data": {"name": "hr"},
      "mark": {"type": "rule", "color": "black", "strokeWidth": 1.2},
      "encoding": {
        "x": {"field": "t", "type": "quantitative", "axis": null},
        "x2": {"field": "t2"},
        "y": {"field": "p", "type": "quantitative"}
      }
    },
    {
      "data": {"name": "ah"},
      "mark": {"type": "point", "filled": true, "size": 144, "color": "black", "opacity": 1, "strokeWidth": 0},
      "encoding": {
        "x": {"field": "t", "type": "quantitative", "axis": null},
        "y": {"field": "p", "type": "quantitative"},
        "shape": {
          "field": "dir", "type": "nominal", "legend": null,
          "scale": {"domain": ["L", "R"], "range": ["M0,0L2,-0.55L2,0.55Z", "M0,0L-2,-0.55L-2,0.55Z"]}
        }
      }
    },
    {
      "data": {"name": "txr"},
      "mark": {"type": "text", "font": "Liberation Serif", "fontSize": 19, "color": "black", "align": "center", "baseline": "alphabetic"},
      "encoding": {
        "x": {
          "field": "t", "type": "quantitative",
          "axis": {
            "orient": "bottom",
            "values": [2.60525, 2.60575, 2.60625, 2.60675, 2.60725, 2.60775, 2.60825, 2.60875],
            "labels": false, "domain": false, "grid": false, "title": null,
            "tickSize": -4, "tickWidth": 2, "tickColor": "black"
          }
        },
        "y": {"field": "p", "type": "quantitative"},
        "text": {"field": "label"}
      }
    },
    {
      "data": {"name": "txb"},
      "mark": {"type": "text", "font": "Liberation Serif", "fontSize": 19, "fontWeight": "bold", "color": "black", "align": "center", "baseline": "alphabetic"},
      "encoding": {
        "x": {"field": "t", "type": "quantitative", "axis": null},
        "y": {"field": "p", "type": "quantitative"},
        "text": {"field": "label"}
      }
    }
  ],
  "resolve": {"axis": {"x": "independent"}}
}
